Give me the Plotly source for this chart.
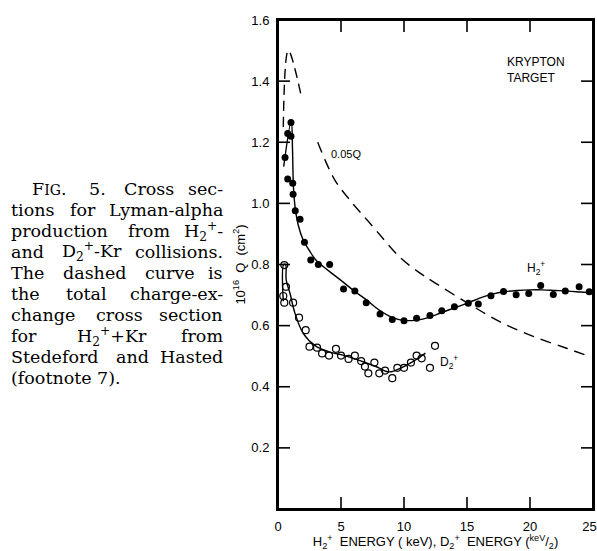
import re
import plotly.graph_objects as go

# ---------------- data ----------------
# H2+ measured points (filled circles)
h2_x = [0.56, 0.77, 0.77, 1.03, 1.03, 1.17, 1.2, 1.37, 1.75, 2.1, 2.6, 3.2, 4.1,
        5.2, 6.1, 7.0, 8.1, 9.07, 10.0, 11.0, 12.06, 13.0, 14.0, 15.1, 15.9,
        16.9, 17.9, 18.9, 19.9, 20.85, 21.85, 22.8, 23.9, 24.7]
h2_y = [1.15, 1.229, 1.08, 1.265, 1.22, 1.066, 1.03, 0.976, 0.948, 0.873, 0.815, 0.80, 0.80,
        0.72, 0.713, 0.675, 0.638, 0.62, 0.616, 0.624, 0.633, 0.649, 0.662, 0.673, 0.671,
        0.698, 0.712, 0.701, 0.705, 0.731, 0.702, 0.713, 0.727, 0.711]

# H2+ smooth fit (solid line)
h2_fit_x = [0.45, 1.05, 1.15, 1.22, 1.35, 1.6, 2.0, 2.5, 3.0, 4.0, 5.0, 6.0, 7.0, 8.0, 9.0,
            10.0, 11.0, 12.0, 13.0, 14.0, 15.0, 16.0, 17.0, 18.0, 19.0, 20.0, 21.0, 22.0,
            23.0, 24.0, 25.0]
h2_fit_y = [1.12, 1.27, 1.18, 1.06, 0.99, 0.93, 0.88, 0.845, 0.815, 0.78, 0.748, 0.715, 0.685,
            0.652, 0.628, 0.617, 0.618, 0.627, 0.643, 0.658, 0.673, 0.69, 0.703, 0.711, 0.715,
            0.717, 0.717, 0.715, 0.713, 0.71, 0.707]

# D2+ measured points (open circles)
d2_x = [0.42, 0.5, 0.5, 0.63, 1.2, 1.67, 2.2, 2.5, 3.1, 3.5, 4.05, 4.6, 5.0, 5.6, 6.1,
        6.6, 6.9, 7.17, 7.65, 8.04, 8.5, 9.07, 9.47, 10.0, 10.55, 11.0, 11.4, 12.06, 12.46]
d2_y = [0.697, 0.675, 0.798, 0.727, 0.675, 0.626, 0.585, 0.531, 0.528, 0.509, 0.502, 0.524,
        0.502, 0.491, 0.502, 0.484, 0.466, 0.444, 0.479, 0.444, 0.453, 0.428, 0.462, 0.462,
        0.479, 0.502, 0.493, 0.462, 0.534]

# D2+ smooth fit (solid line)
d2_fit_x = [0.42, 0.45, 0.6, 0.65, 0.95, 1.35, 2.0, 3.0, 4.0, 5.0, 6.0, 7.0, 8.0, 8.6, 9.0,
            9.7, 10.7, 11.7]
d2_fit_y = [0.68, 0.80, 0.80, 0.75, 0.706, 0.64, 0.575, 0.533, 0.515, 0.505, 0.493, 0.478,
            0.462, 0.45, 0.449, 0.46, 0.482, 0.51]

# total charge-exchange cross section x 0.05 (dashed), two pieces
cx1_x = [0.42, 0.82, 1.88]
cx1_y = [1.25, 1.50, 1.344]
cx2_x = [3.15, 4.5, 5.7, 7.3, 9.7, 11.3, 12.3, 15.0, 17.6, 20.3, 22.9, 24.8]
cx2_y = [1.20, 1.077, 1.011, 0.935, 0.823, 0.771, 0.744, 0.675, 0.613, 0.564, 0.526, 0.498]

x_ticks = [0, 5, 10, 15, 20, 25]
y_ticks = [0.2, 0.4, 0.6, 0.8, 1.0, 1.2, 1.4, 1.6]
x_range = [0, 25]
y_range = [0, 1.6]

# caption, one list of words per printed line (justified, last line ragged)
caption_lines = [
    ["F<span style='font-size:14px'>IG</span>.", "5.", "Cross", "sec-"],
    ["tions", "for", "Lyman-alpha"],
    ["production", "from", "H<sub>2</sub><sup>+</sup>-"],
    ["and", "D<sub>2</sub><sup>+</sup>-Kr", "collisions."],
    ["The", "dashed", "curve", "is"],
    ["the", "total", "charge-ex-"],
    ["change", "cross", "section"],
    ["for", "H<sub>2</sub><sup>+</sup>+Kr", "from"],
    ["Stedeford", "and", "Hasted"],
    ["(footnote", "7)."],
]

# ---------------- figure ----------------
W, H = 597, 551
x0_px, x1_px = 278, 593
y0_px, y1_px = 509, 20
TL = 12  # tick length in px
tl_x = TL * (x_range[1] - x_range[0]) / (x1_px - x0_px)
tl_y = TL * (y_range[1] - y_range[0]) / (y0_px - y1_px)

fig = go.Figure()
line_style = dict(color="black", width=1.4)

fig.add_trace(go.Scatter(x=cx1_x, y=cx1_y, mode="lines", line_shape="spline",
                         line=dict(color="black", width=1.4, dash="10px,6px"), showlegend=False))
fig.add_trace(go.Scatter(x=cx2_x, y=cx2_y, mode="lines", line_shape="spline",
                         line=dict(color="black", width=1.4, dash="11px,7px"), showlegend=False))
fig.add_trace(go.Scatter(x=h2_fit_x, y=h2_fit_y, mode="lines", line_shape="spline",
                         line=line_style, showlegend=False))
fig.add_trace(go.Scatter(x=d2_fit_x, y=d2_fit_y, mode="lines", line_shape="spline",
                         line=line_style, showlegend=False))
fig.add_trace(go.Scatter(x=h2_x, y=h2_y, mode="markers",
                         marker=dict(symbol="circle", size=7, color="black"), showlegend=False))
fig.add_trace(go.Scatter(x=d2_x, y=d2_y, mode="markers",
                         marker=dict(symbol="circle-open", size=7, color="black",
                                     line=dict(width=1.2, color="black")), showlegend=False))

# frame + inward ticks on all four sides, built from the tick arrays
fx, fy = [], []
for v in x_ticks:
    if x_range[0] < v < x_range[1]:
        fx += [v, v, None, v, v, None]
        fy += [y_range[0], y_range[0] + tl_y, None, y_range[1], y_range[1] - tl_y, None]
for v in y_ticks:
    if y_range[0] < v < y_range[1]:
        fx += [x_range[0], x_range[0] + tl_x, None, x_range[1], x_range[1] - tl_x, None]
        fy += [v, v, None, v, v, None]
fig.add_trace(go.Scatter(x=fx, y=fy, mode="lines", line=dict(color="black", width=1.6),
                         cliponaxis=False, hoverinfo="skip", showlegend=False))
fig.add_trace(go.Scatter(x=[x_range[0], x_range[1], x_range[1], x_range[0], x_range[0]],
                         y=[y_range[0], y_range[0], y_range[1], y_range[1], y_range[0]],
                         mode="lines", line=dict(color="black", width=2),
                         cliponaxis=False, hoverinfo="skip", showlegend=False))

font_sans = "Liberation Sans, Arial, sans-serif"
axis_common = dict(showline=True, linecolor="black", linewidth=2, mirror=True,
                   ticks="", showgrid=False, zeroline=False, ticklabeloverflow="allow",
                   ticklabelstandoff=4,
                   tickfont=dict(family=font_sans, size=13, color="black"))

x_ticktext = [str(v) for v in x_ticks]
x_ticktext[-1] = x_ticktext[-1] + "&nbsp;&nbsp;"
fig.update_xaxes(range=x_range, tickmode="array", tickvals=x_ticks, ticktext=x_ticktext,
                 domain=[x0_px / W, x1_px / W],
                 title=dict(text="H<sub>2</sub><sup>+</sup>  ENERGY ( keV), D<sub>2</sub><sup>+</sup>  ENERGY (<sup>keV</sup>/<sub>2</sub>)",
                            font=dict(family=font_sans, size=13, color="black"), standoff=8),
                 **axis_common)
fig.update_yaxes(range=y_range, tickmode="array", tickvals=y_ticks,
                 ticktext=[f"{v:.1f}" for v in y_ticks],
                 domain=[1 - y0_px / H, 1 - y1_px / H],
                 title=dict(text="10<sup>16</sup>  Q  (cm<sup>2</sup>)",
                            font=dict(family=font_sans, size=13, color="black"), standoff=3),
                 **axis_common)

ann = []
ann.append(dict(x=5.4, y=1.162, xref="x", yref="y", text="0.05Q", showarrow=False,
                font=dict(family=font_sans, size=11, color="black"), xanchor="center"))
ann.append(dict(x=18.05, y=1.435, xref="x", yref="y", text="KRYPTON<br>TARGET", showarrow=False,
                align="left", xanchor="left",
                font=dict(family=font_sans, size=12, color="black")))
ann.append(dict(x=20.5, y=0.79, xref="x", yref="y", text="H<sub>2</sub><sup>+</sup>", showarrow=False,
                font=dict(family=font_sans, size=12, color="black")))
ann.append(dict(x=13.6, y=0.482, xref="x", yref="y", text="D<sub>2</sub><sup>+</sup>", showarrow=False,
                font=dict(family=font_sans, size=12, color="black")))

# --- justified caption: approximate DejaVu Serif advance widths (em) ---
CAP_SIZE = 17.5
CW = dict(a=.596, b=.640, c=.560, d=.640, e=.592, f=.370, g=.640, h=.644, i=.320, j=.310,
          k=.606, l=.320, m=.948, n=.644, o=.602, p=.640, q=.640, r=.478, s=.513, t=.402,
          u=.644, v=.565, w=.856, x=.564, y=.565, z=.527)
CW.update({".": .318, "-": .338, "(": .390, ")": .390, "+": .838, " ": .318})


def char_w(ch):
    if ch in CW:
        return CW[ch]
    if ch.isdigit():
        return .636
    if ch.isupper():
        return .74
    return .6


def text_w(html, size):
    w, scale = 0.0, 1.0
    for tok in re.split(r"(<[^>]+>)", html):
        if tok.startswith("<"):
            if tok.startswith("<sub") or tok.startswith("<sup"):
                scale = 0.7
            elif tok.startswith("<span"):
                scale = 14 / 18
            elif tok.startswith("</"):
                scale = 1.0
            continue
        w += sum(char_w(c) for c in tok) * size * scale
    return w


cap_left, cap_right, indent = 9, 225, 21
line_h = 21
top_px = 189
for i, words in enumerate(caption_lines):
    left = cap_left + (indent if i == 0 else 0)
    ypos = 1 - (top_px + i * line_h) / H
    widths = [text_w(wd, CAP_SIZE) for wd in words]
    last = i == len(caption_lines) - 1
    if last or len(words) == 1:
        gap = CW[" "] * CAP_SIZE
    else:
        gap = (cap_right - left - sum(widths)) / (len(words) - 1)
    xcur = left
    for j, wd in enumerate(words):
        if (not last) and j == len(words) - 1 and len(words) > 1:
            xa, xp = "right", cap_right
        else:
            xa, xp = "left", xcur
        ann.append(dict(x=xp / W, y=ypos, xref="paper", yref="paper", text=wd, showarrow=False,
                        xanchor=xa, yanchor="middle", align="left",
                        font=dict(family="DejaVu Serif, serif", size=CAP_SIZE, color="black")))
        xcur += widths[j] + gap

fig.update_layout(template="none", width=W, height=H, margin=dict(l=0, r=0, t=0, b=0),
                  paper_bgcolor="white", plot_bgcolor="white", annotations=ann)

fig.write_html("out.html")
